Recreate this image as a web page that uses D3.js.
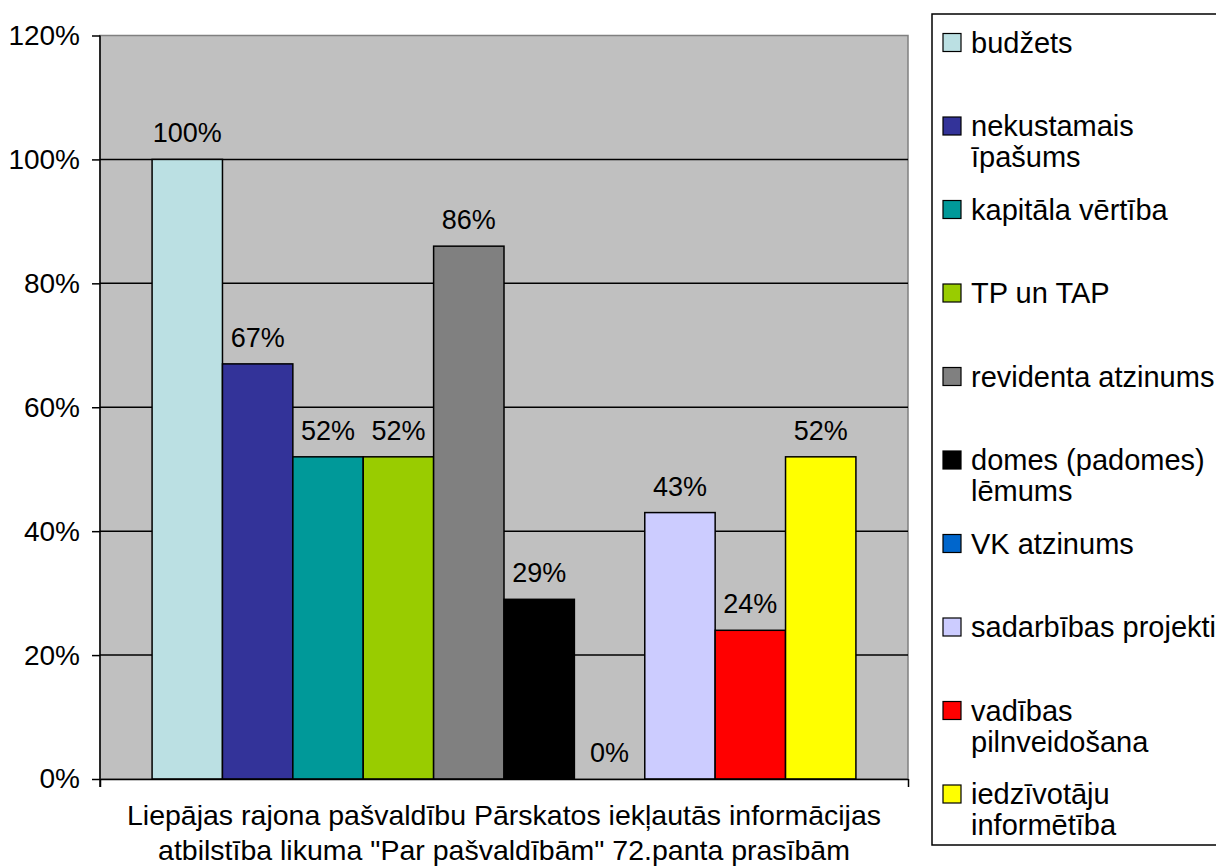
<!DOCTYPE html>
<html>
<head>
<meta charset="utf-8">
<script src="https://cdn.jsdelivr.net/npm/d3@7"></script>
<style>
  html, body { margin: 0; padding: 0; background: #fff; }
  svg { display: block; font-family: "Liberation Sans", Arial, sans-serif; }
</style>
</head>
<body>
<svg id="chart" width="1216" height="866"></svg>
<script>
// ---- data ----
const categories = [
  "budžets",
  "nekustamais\nīpašums",
  "kapitāla vērtība",
  "TP un TAP",
  "revidenta atzinums",
  "domes (padomes)\nlēmums",
  "VK atzinums",
  "sadarbības projekti",
  "vadības\npilnveidošana",
  "iedzīvotāju\ninformētība"
];
const values = [1.00, 0.67, 0.52, 0.52, 0.86, 0.29, 0.00, 0.43, 0.24, 0.52];
const colors = ["#BBE0E3", "#333399", "#009999", "#99CC00", "#808080",
                "#000000", "#0066CC", "#CCCCFF", "#FF0000", "#FFFF00"];
const yTicks = [0, 0.2, 0.4, 0.6, 0.8, 1.0, 1.2];
const xTitle = [
  "Liepājas rajona pašvaldību Pārskatos iekļautās informācijas",
  "atbilstība likuma \"Par pašvaldībām\" 72.panta prasībām"
];

// ---- layout ----
const svg = d3.select("#chart");
const plot = { left: 100, right: 908, top: 35.5, bottom: 779 };
const labelSize = 27, axisSize = 28, titleSize = 28.5, legendSize = 29;

const x = d3.scaleBand().domain(categories)
  .range([plot.left, plot.right]).paddingInner(0).paddingOuter(0.74);
const y = d3.scaleLinear().domain([0, 1.2]).range([plot.bottom, plot.top]);

// plot background
svg.append("rect")
  .attr("x", plot.left).attr("y", plot.top)
  .attr("width", plot.right - plot.left).attr("height", plot.bottom - plot.top)
  .attr("fill", "#C0C0C0").attr("stroke", "#808080").attr("stroke-width", 1.5);

// gridlines
svg.append("g").selectAll("line")
  .data(yTicks.filter(d => d > 0 && d < 1.2))
  .join("line")
  .attr("x1", plot.left).attr("x2", plot.right)
  .attr("y1", d => y(d)).attr("y2", d => y(d))
  .attr("stroke", "#000").attr("stroke-width", 1.5);

// bars
svg.append("g").selectAll("rect")
  .data(categories)
  .join("rect")
  .attr("x", d => x(d))
  .attr("y", (d, i) => y(values[i]))
  .attr("width", x.bandwidth())
  .attr("height", (d, i) => y(0) - y(values[i]))
  .attr("fill", (d, i) => colors[i])
  .attr("stroke", "#000").attr("stroke-width", 1.5);

// data labels
svg.append("g").selectAll("text")
  .data(categories)
  .join("text")
  .attr("x", d => x(d) + x.bandwidth() / 2)
  .attr("y", (d, i) => Math.min(y(values[i]) - 17, plot.bottom - 8))
  .attr("text-anchor", "middle")
  .attr("font-size", labelSize)
  .attr("fill", "#000")
  .text((d, i) => d3.format(".0%")(values[i]));

// y axis
const yAxis = svg.append("g")
  .attr("transform", `translate(${plot.left},0)`)
  .call(d3.axisLeft(y).tickValues(yTicks).tickFormat(d3.format(".0%"))
        .tickSize(8).tickPadding(12));
yAxis.select(".domain").remove();
yAxis.selectAll(".tick line").attr("stroke", "#000").attr("stroke-width", 1.5);
yAxis.selectAll(".tick text").attr("font-size", axisSize).attr("fill", "#000")
  .attr("font-family", "Liberation Sans, Arial, sans-serif");
svg.append("line")
  .attr("x1", plot.left).attr("x2", plot.left)
  .attr("y1", plot.top).attr("y2", plot.bottom + 8)
  .attr("stroke", "#000").attr("stroke-width", 1.5);

// x axis
const xEdge = d3.scaleLinear().domain([0, 1]).range([plot.left, plot.right]);
const xAxis = svg.append("g")
  .attr("transform", `translate(0,${plot.bottom})`)
  .call(d3.axisBottom(xEdge).tickValues([0, 1]).tickFormat("")
        .tickSize(8).tickSizeOuter(0));
xAxis.select(".domain").attr("stroke", "#000").attr("stroke-width", 1.5);
xAxis.selectAll(".tick line").attr("stroke", "#000").attr("stroke-width", 1.5);

// x title
svg.append("g").selectAll("text")
  .data(xTitle)
  .join("text")
  .attr("x", (plot.left + plot.right) / 2)
  .attr("y", (d, i) => 825 + i * 35)
  .attr("text-anchor", "middle")
  .attr("font-size", titleSize)
  .attr("fill", "#000")
  .text(d => d);

// legend
const legend = { left: 932, top: 14, right: 1222, bottom: 845,
                 firstCenter: 42.5, step: 83.5, lineH: 31 };
svg.append("rect")
  .attr("x", legend.left).attr("y", legend.top)
  .attr("width", legend.right - legend.left)
  .attr("height", legend.bottom - legend.top)
  .attr("fill", "#fff").attr("stroke", "#000").attr("stroke-width", 1.5);

const items = svg.append("g").selectAll("g")
  .data(categories)
  .join("g")
  .attr("transform", (d, i) =>
    `translate(${legend.left}, ${legend.firstCenter + i * legend.step})`);
items.append("rect")
  .attr("x", 11).attr("y", -9)
  .attr("width", 18).attr("height", 18)
  .attr("fill", (d, i) => colors[i])
  .attr("stroke", "#000").attr("stroke-width", 1.2);
items.append("text")
  .attr("font-size", legendSize)
  .attr("fill", "#000")
  .selectAll("tspan")
  .data(d => d.split("\n"))
  .join("tspan")
  .attr("x", 39)
  .attr("y", (d, j) => 10 + j * legend.lineH)
  .text(d => d);
</script>
</body>
</html>
